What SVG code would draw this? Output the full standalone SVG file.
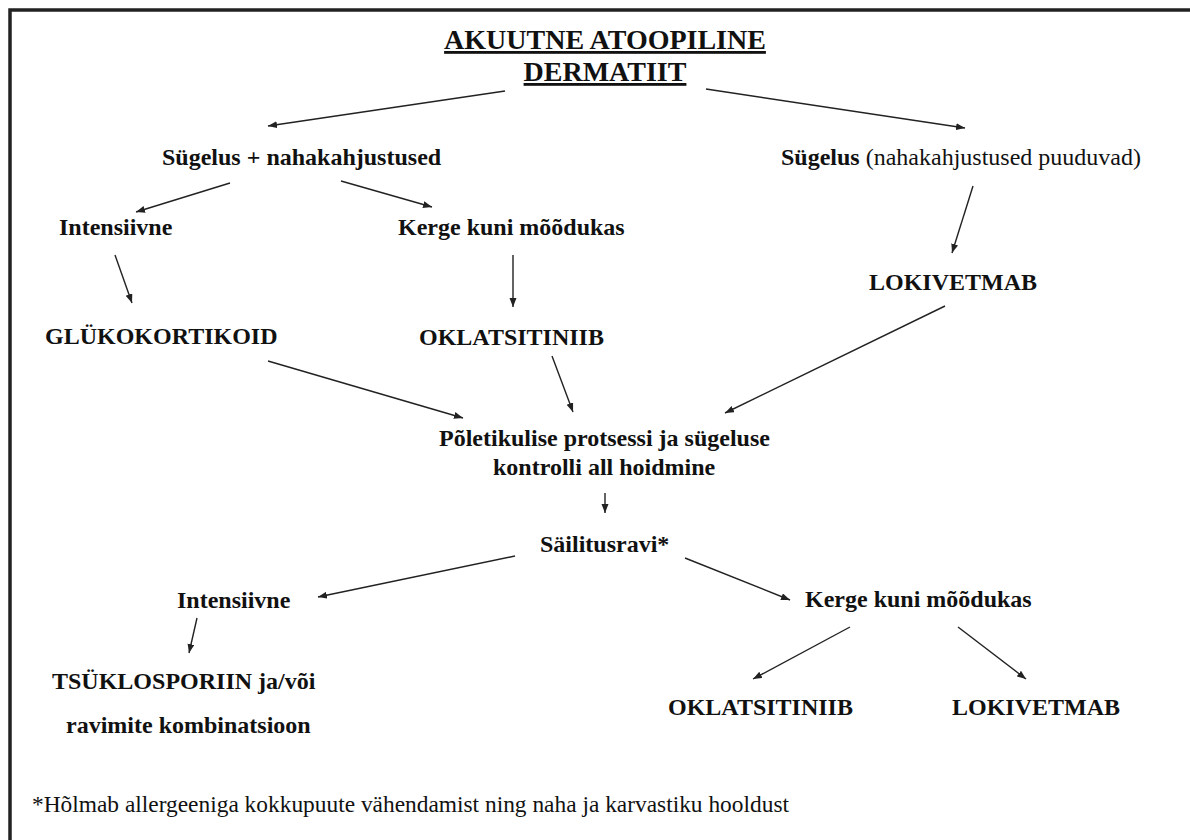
<svg xmlns="http://www.w3.org/2000/svg" width="1190" height="840" viewBox="0 0 1190 840">
<defs>
<style>
.t{font-family:"Liberation Serif","Times New Roman",serif;font-size:24px;fill:#111;font-weight:bold}
.n{font-weight:normal}
.title{font-size:28px;text-decoration:underline}
.foot{font-size:23.4px}
.c line{stroke:#222;stroke-width:1.4;marker-end:url(#ah)}
</style>
<marker id="ah" markerUnits="userSpaceOnUse" markerWidth="10" markerHeight="8" refX="9" refY="3.5" orient="auto">
<path d="M0,0 L9,3.5 L0,7 z" fill="#222"/>
</marker>
</defs>
<rect x="0" y="0" width="1190" height="840" fill="#fff"/>
<rect id="frame" x="10" y="10" width="1200" height="860" fill="none" stroke="#222" stroke-width="3.5"/>
<g id="title"><text class="t title" x="605" y="49" text-anchor="middle">AKUUTNE ATOOPILINE</text><text class="t title" x="605" y="81" text-anchor="middle">DERMATIIT</text></g>
<g id="n-sugelus-kahj"><text class="t" x="162" y="165">Sügelus + nahakahjustused</text></g>
<g id="n-sugelus-puud"><text class="t" x="781" y="165">Sügelus <tspan class="n">(nahakahjustused puuduvad)</tspan></text></g>
<g id="n-intens1"><text class="t" x="59" y="235">Intensiivne</text></g>
<g id="n-kerge1"><text class="t" x="398" y="235">Kerge kuni mõõdukas</text></g>
<g id="n-gluko"><text class="t" x="45" y="344">GLÜKOKORTIKOID</text></g>
<g id="n-oklats1"><text class="t" x="419" y="345">OKLATSITINIIB</text></g>
<g id="n-loki1"><text class="t" x="869" y="290">LOKIVETMAB</text></g>
<g id="n-poletik"><text class="t" x="439" y="446">Põletikulise protsessi ja sügeluse</text><text class="t" x="493" y="475">kontrolli all hoidmine</text></g>
<g id="n-sailitus"><text class="t" x="540" y="552">Säilitusravi*</text></g>
<g id="n-intens2"><text class="t" x="177" y="608">Intensiivne</text></g>
<g id="n-kerge2"><text class="t" x="805" y="607">Kerge kuni mõõdukas</text></g>
<g id="n-tsuklo"><text class="t" x="52" y="689">TSÜKLOSPORIIN ja/või</text><text class="t" x="66" y="733">ravimite kombinatsioon</text></g>
<g id="n-oklats2"><text class="t" x="668" y="715">OKLATSITINIIB</text></g>
<g id="n-loki2"><text class="t" x="952" y="715">LOKIVETMAB</text></g>
<g id="footnote"><text class="t n foot" x="32" y="812">*Hõlmab allergeeniga kokkupuute vähendamist ning naha ja karvastiku hooldust</text></g>
<g id="connectors" class="c">
<line x1="505" y1="91" x2="268" y2="126"/>
<line x1="706" y1="89" x2="965" y2="128"/>
<line x1="230" y1="183" x2="136" y2="212"/>
<line x1="341" y1="181" x2="432" y2="207"/>
<line x1="115" y1="255" x2="132" y2="303"/>
<line x1="513" y1="255" x2="513" y2="307"/>
<line x1="973" y1="186" x2="952" y2="253"/>
<line x1="268" y1="361" x2="463" y2="418"/>
<line x1="552" y1="356" x2="573" y2="412"/>
<line x1="945" y1="306" x2="725" y2="413"/>
<line x1="605" y1="493" x2="605" y2="513"/>
<line x1="515" y1="556" x2="318" y2="597"/>
<line x1="685" y1="558" x2="790" y2="600"/>
<line x1="197" y1="618" x2="189" y2="653"/>
<line x1="850" y1="627" x2="753" y2="679"/>
<line x1="958" y1="627" x2="1026" y2="679"/>
</g>
</svg>
